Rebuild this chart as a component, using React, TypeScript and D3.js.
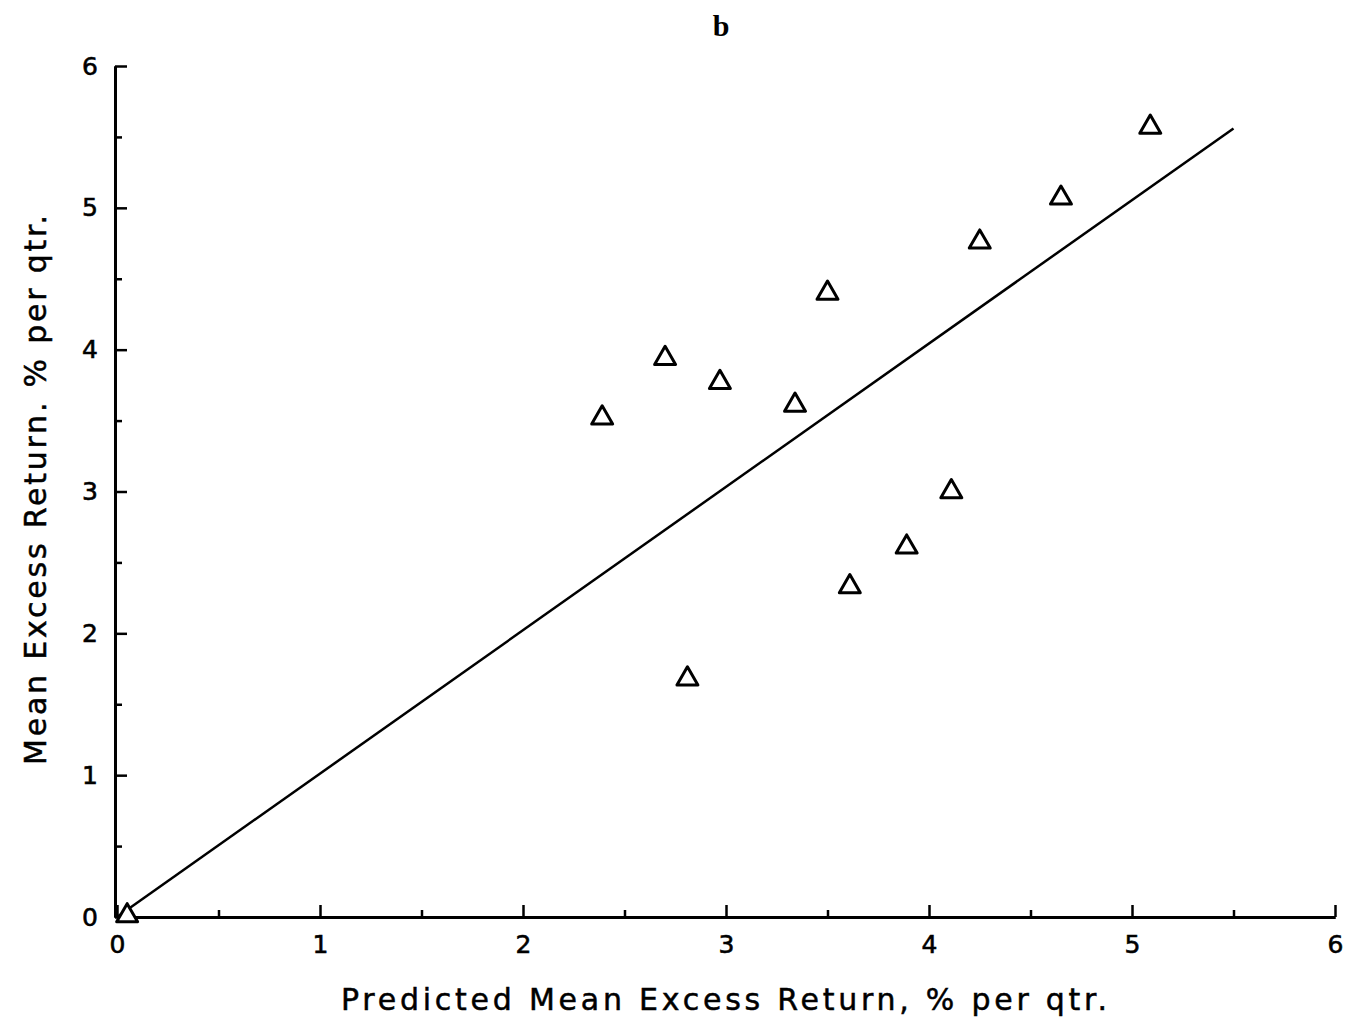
import React, { useEffect, useRef } from 'react';
import * as d3 from 'd3';

// predicted vs. mean excess return, % per quarter
const predicted = [0.05, 2.39, 2.70, 2.97, 2.81, 3.34, 3.50, 3.61, 3.89, 4.11, 4.25, 4.65, 5.09];
const actual = [0.03, 3.54, 3.96, 3.79, 1.70, 3.63, 4.42, 2.35, 2.63, 3.02, 4.78, 5.09, 5.59];
const fitLine = [[0, 0], [5.5, 5.56]];
const majorTicks = [0, 1, 2, 3, 4, 5, 6];
const minorTicks = [0.5, 1.5, 2.5, 3.5, 4.5, 5.5];

const W = 1346;
const H = 1017;

const App = () => {
    const svgRef = useRef<SVGSVGElement>(null);

    useEffect(() => {
        document.body.style.margin = '0';
        if (!svgRef.current) return;
        const svg = d3.select(svgRef.current);
        svg.selectAll('*').remove();

        const x = d3.scaleLinear().domain([0, 6]).range([117, 1335]);
        const y = d3.scaleLinear().domain([0, 6]).range([917, 66]);
        const font = "'DejaVu Sans', sans-serif";

        // title
        svg.append('text')
            .attr('x', 721).attr('y', 36)
            .attr('text-anchor', 'middle')
            .attr('font-family', "'Liberation Serif', serif")
            .attr('font-weight', 'bold')
            .attr('font-size', 30)
            .text('b');

        // x axis
        const gx = svg.append('g').attr('transform', `translate(0,${y(0)})`);
        gx.call(d3.axisBottom(x).tickValues(majorTicks).tickSizeInner(-12).tickSizeOuter(0).tickPadding(18).tickFormat(d3.format('d')));
        gx.append('g').call(d3.axisBottom(x).tickValues(minorTicks).tickSizeInner(-7).tickSizeOuter(0).tickFormat(() => ''));

        // y axis
        const gy = svg.append('g').attr('transform', `translate(${x(0) - 2},0)`);
        gy.call(d3.axisLeft(y).tickValues(majorTicks).tickSizeInner(-12).tickSizeOuter(0).tickPadding(17).tickFormat(d3.format('d')));
        gy.append('g').call(d3.axisLeft(y).tickValues(minorTicks).tickSizeInner(-7).tickSizeOuter(0).tickFormat(() => ''));

        svg.selectAll('.domain').attr('stroke', '#000').attr('stroke-width', 3);
        svg.selectAll('.tick line').attr('stroke', '#000').attr('stroke-width', 2.5);
        svg.selectAll('.tick text')
            .attr('font-family', font)
            .attr('font-size', 25)
            .attr('stroke', '#000')
            .attr('stroke-width', 0.6)
            .attr('fill', '#000');

        // 45-degree line
        svg.append('path')
            .datum(fitLine)
            .attr('d', d3.line().x(d => x(d[0])).y(d => y(d[1])))
            .attr('fill', 'none')
            .attr('stroke', '#000')
            .attr('stroke-width', 2.5);

        // triangles (symbol nudged so its box, not its centroid, sits on the value)
        const tri = d3.symbol().type(d3.symbolTriangle).size(190);
        svg.selectAll('.pt')
            .data(predicted.map((p, i) => [p, actual[i]]))
            .join('path')
            .attr('class', 'pt')
            .attr('transform', d => `translate(${x(d[0])},${y(d[1]) + 3})`)
            .attr('d', tri())
            .attr('fill', '#fff')
            .attr('stroke', '#000')
            .attr('stroke-width', 3)
            .attr('stroke-linejoin', 'round');

        // axis titles
        svg.append('text')
            .attr('x', 724).attr('y', 1010)
            .attr('text-anchor', 'middle')
            .attr('font-family', font)
            .attr('font-size', 30)
            .attr('stroke', '#000')
            .attr('stroke-width', 0.5)
            .attr('textLength', 766)
            .attr('lengthAdjust', 'spacing')
            .text('Predicted Mean Excess Return, % per qtr.');

        svg.append('text')
            .attr('transform', 'translate(46,490) rotate(-90)')
            .attr('text-anchor', 'middle')
            .attr('font-family', font)
            .attr('font-size', 30)
            .attr('stroke', '#000')
            .attr('stroke-width', 0.5)
            .attr('textLength', 550)
            .attr('lengthAdjust', 'spacing')
            .text('Mean Excess Return. % per qtr.');
    }, []);

    return (
        <svg ref={svgRef} width={W} height={H} style={{ display: 'block', background: '#fff' }}></svg>
    );
};

export default App;
